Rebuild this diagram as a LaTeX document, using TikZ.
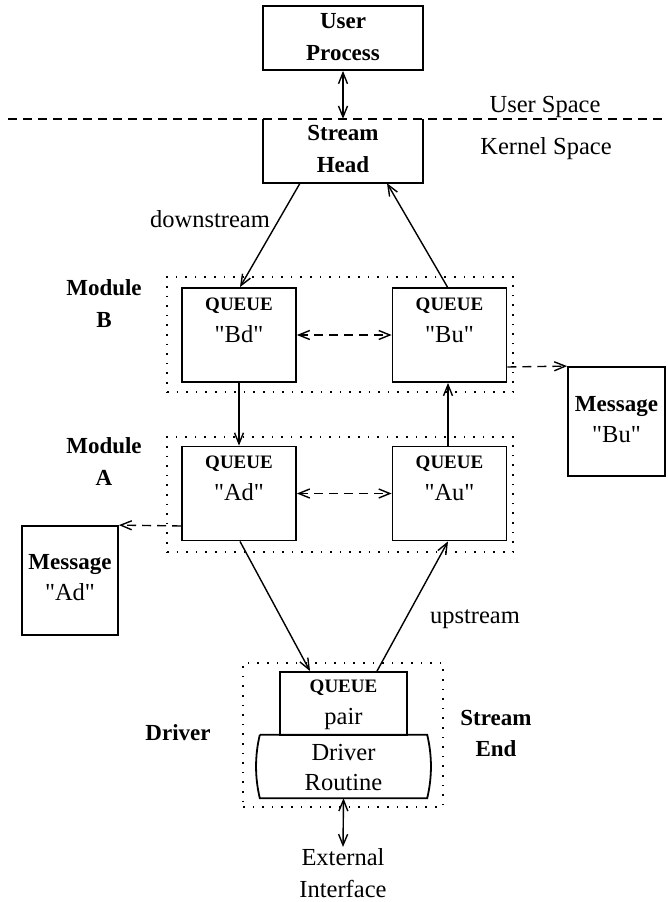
\documentclass[tikz,border=0pt]{standalone}
\usepackage{fontspec}
\setmainfont{Liberation Serif}
\usetikzlibrary{arrows.meta}
\newcommand{\qq}[1]{\textquotedbl#1\textquotedbl}
\begin{document}
\begin{tikzpicture}[x=1pt,y=-1pt,
  >={Straight Barb[length=11pt,width=9pt]},
  boxl/.style={line width=1.8pt},
  rbox/.style={draw, boxl, inner sep=0pt},
  dotbox/.style={draw, line width=1.6pt, dash pattern=on 1.6pt off 8pt, inner sep=0pt},
  qbox/.style={rbox, minimum width=114pt, minimum height=94pt},
  conn/.style={line width=1.4pt, ->},
  dconn/.style={conn, dash pattern=on 9pt off 6pt},
  txt/.style={anchor=base, inner sep=0pt, font=\fontsize{24.5}{28}\selectfont},
  btxt/.style={anchor=base, inner sep=0pt, font=\fontsize{23}{28}\selectfont\bfseries},
  qtxt/.style={anchor=base, inner sep=0pt, font=\fontsize{19}{22}\selectfont\bfseries}
]
\useasboundingbox (0,0) rectangle (668,902);

% dotted groups
\node[dotbox, minimum width=346pt, minimum height=115pt] (modB) at (340,334.5) {};
\node[dotbox, minimum width=346pt, minimum height=115pt] (modA) at (340,494.5) {};
\node[dotbox, minimum width=200pt, minimum height=144pt] (drv) at (343,735) {};

% user / kernel boundary
\coordinate (bl) at (8,119);
\coordinate (br) at (668,119);
\draw[line width=1.4pt, dash pattern=on 9pt off 6pt] (bl) -- (br);

% boxes
\node[rbox, minimum width=160pt, minimum height=64pt] (up) at (343,38) {};
\node[inner sep=0pt, minimum width=160pt, minimum height=64pt] (sh) at (343,151) {};
\draw[boxl] (sh.north west) -- (sh.south west) -- (sh.south east) -- (sh.north east);

\node[qbox] (Bd) at (239,335) {};
\node[qbox] (Bu) at (449.5,335) {};
\node[qbox] (Ad) at (239,493.5) {};
\node[qbox] (Au) at (449.5,493.5) {};

\node[rbox, minimum width=97pt, minimum height=109pt] (mbu) at (616.5,421.5) {};
\node[rbox, minimum width=96pt, minimum height=109pt] (mad) at (70,580.5) {};

\node[rbox, minimum width=127pt, minimum height=63pt] (qp) at (343.5,703.5) {};
\node[inner sep=0pt, minimum width=167pt, minimum height=63pt] (dr) at (343.5,766.5) {};
\draw[boxl] (dr.north west) -- (dr.north east)
  .. controls +(5,21) and +(5,-21) .. (dr.south east)
  -- (dr.south west)
  .. controls +(-5,-21) and +(-5,21) .. (dr.north west);

% texts
\node[btxt] (t1) at (343,28) {User};
\node[btxt] (t2) at (343,60) {Process};
\node[btxt] (t3) at (343,140) {Stream};
\node[btxt] (t4) at (343,172) {Head};
\node[txt] (t5) at (545,112) {User Space};
\node[txt] (t6) at (546,154) {Kernel Space};
\node[txt] (t7) at (210,227) {downstream};
\node[btxt] (t8) at (104,295) {Module};
\node[btxt] (t9) at (104,327) {B};
\node[qtxt] (t10) at (239,310) {QUEUE};
\node[txt] (t11) at (239,342) {\qq{Bd}};
\node[qtxt] (t12) at (449.5,310) {QUEUE};
\node[txt] (t13) at (449.5,342) {\qq{Bu}};
\node[btxt] (t14) at (104,453) {Module};
\node[btxt] (t15) at (104,485) {A};
\node[qtxt] (t16) at (239,468) {QUEUE};
\node[txt] (t17) at (239,500) {\qq{Ad}};
\node[qtxt] (t18) at (449.5,468) {QUEUE};
\node[txt] (t19) at (449.5,500) {\qq{Au}};
\node[btxt] (t20) at (616.5,411) {Message};
\node[txt] (t21) at (616.5,442) {\qq{Bu}};
\node[btxt] (t22) at (70,569) {Message};
\node[txt] (t23) at (70,600) {\qq{Ad}};
\node[txt] (t24) at (475,623) {upstream};
\node[btxt] (t25) at (178,740) {Driver};
\node[btxt] (t26) at (496,725) {Stream};
\node[btxt] (t27) at (496,756) {End};
\node[qtxt] (t28) at (343.5,692) {QUEUE};
\node[txt] (t29) at (343.5,724) {pair};
\node[txt] (t30) at (343.5,760) {Driver};
\node[txt] (t31) at (343.5,790) {Routine};
\node[txt] (t32) at (343,865) {External};
\node[txt] (t33) at (343,897) {Interface};

% connectors
\draw[conn, <->] (up.south) -- (sh.north);
\draw[conn] ([xshift=-43pt]sh.south) -- ([xshift=1pt]Bd.north);
\draw[conn] ([xshift=-2pt]Bu.north) -- ([xshift=44pt]sh.south);
\draw[dconn, <->] (Bd.east) -- (Bu.west);
\draw[conn] (Bd.south) -- (Ad.north);
\draw[conn] ([xshift=-1.5pt]Au.north) -- ([xshift=-1.5pt]Bu.south);
\draw[dconn, <->] (Ad.east) -- (Au.west);
\draw[dconn] ([yshift=-32pt]Bu.east) -- (mbu.north west);
\draw[dconn] ([yshift=-32.5pt]Ad.west) -- (mad.north east);
\draw[conn] ([xshift=1pt]Ad.south) -- ([xshift=-33.5pt]qp.north);
\draw[conn] ([xshift=33.5pt]qp.north) -- ([xshift=-1.5pt]Au.south);
\coordinate (extt) at (343,847);
\draw[conn, <->] (dr.south) -- (extt);
\end{tikzpicture}
\end{document}
